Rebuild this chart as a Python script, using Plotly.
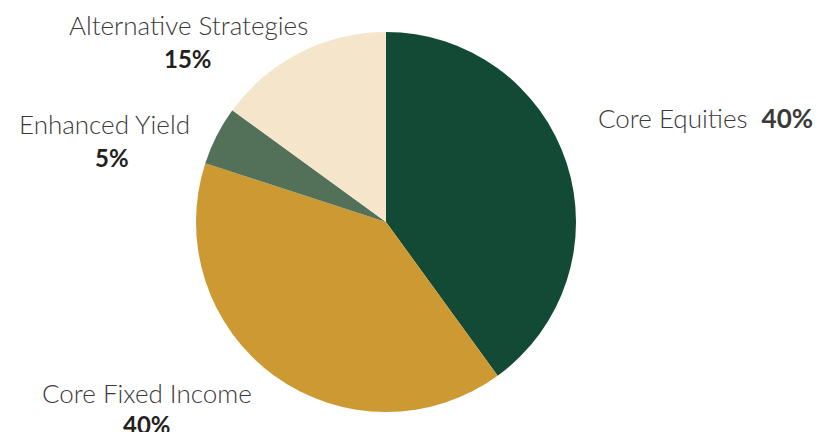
import plotly.graph_objects as go

# allocation data
categories = ["Core Equities", "Core Fixed Income", "Enhanced Yield", "Alternative Strategies"]
weights = [40, 40, 5, 15]
colors = ["#134A35", "#CC9933", "#537058", "#F5E6CB"]

W, H = 825, 432
cx, cy, r = 386, 222, 190

fig = go.Figure(go.Pie(
    labels=categories,
    values=weights,
    sort=False,
    direction="clockwise",
    rotation=0,
    marker=dict(colors=colors, line=dict(width=0)),
    textinfo="none",
    hoverinfo="label+percent",
    domain=dict(x=[(cx - r) / W, (cx + r) / W],
                y=[(H - cy - r) / H, (H - cy + r) / H]),
))

# label placement in pixels (name position, percent position)
name_font = dict(family="Lato, Open Sans, sans-serif", size=26, color="#3a3a3a", weight=300)
pct_font = dict(family="Lato, Open Sans, sans-serif", size=24, color="#231f20", weight=700)
label_pos = {
    "Alternative Strategies": ((188, 25), (188, 58)),
    "Enhanced Yield": ((105, 124), (112, 157)),
    "Core Fixed Income": ((147, 393), (147, 424)),
}

anns = []
for cat, w in zip(categories, weights):
    if cat == "Core Equities":
        anns.append(dict(x=596 / W, y=1 - 118 / H, xref="paper", yref="paper",
                         xanchor="left", yanchor="middle", showarrow=False,
                         text=f"{cat}&nbsp;&nbsp;<b>{w}%</b>", font=name_font))
        continue
    (nx, ny), (px_, py_) = label_pos[cat]
    anns.append(dict(x=nx / W, y=1 - ny / H, xref="paper", yref="paper",
                     xanchor="center", yanchor="middle", showarrow=False,
                     text=cat, font=name_font))
    anns.append(dict(x=px_ / W, y=1 - py_ / H, xref="paper", yref="paper",
                     xanchor="center", yanchor="middle", showarrow=False,
                     text=f"{w}%", font=pct_font))

fig.update_layout(
    width=W, height=H,
    margin=dict(l=0, r=0, t=0, b=0),
    showlegend=False,
    paper_bgcolor="white",
    plot_bgcolor="white",
    annotations=anns,
)

# drop the page's default body margin so the figure sits at the top-left
fig.write_html("out.html", config={"displayModeBar": False},
               post_script="document.body.style.margin='0';")
